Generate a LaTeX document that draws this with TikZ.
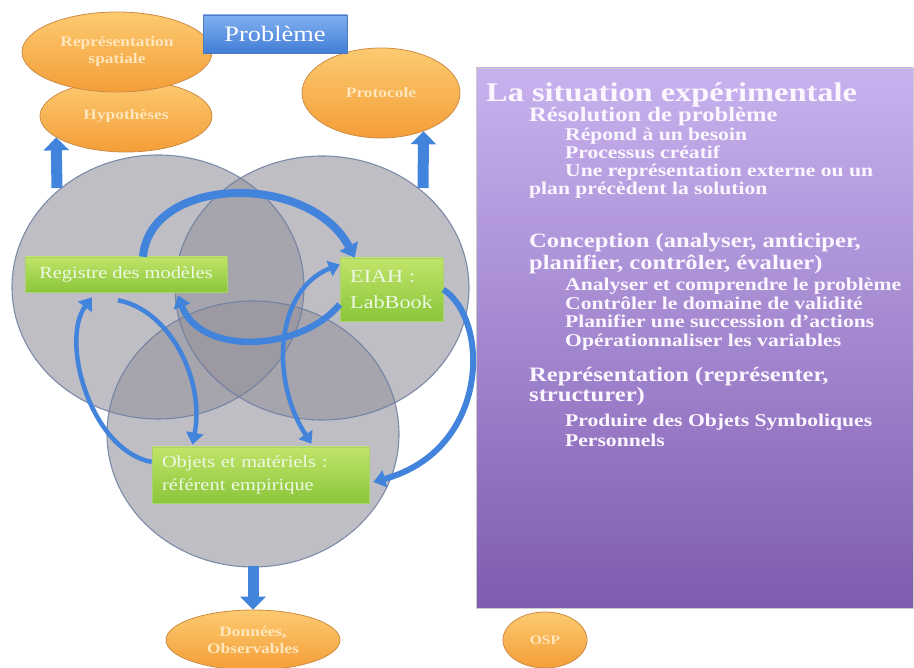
\documentclass[tikz,border=0pt]{standalone}
\usepackage{fontspec}
\newfontfamily\cam[FakeStretch=1.2]{Liberation Serif}
\usetikzlibrary{shapes.geometric,arrows.meta}
\definecolor{cgray}{RGB}{148,145,156}
\definecolor{cedge}{RGB}{108,126,160}
\definecolor{ablue}{RGB}{66,132,220}
\definecolor{ptop}{RGB}{200,178,238}
\definecolor{pbot}{RGB}{126,92,176}
\definecolor{ptext}{RGB}{252,246,255}
\definecolor{gtop}{RGB}{192,228,105}
\definecolor{gbot}{RGB}{138,198,58}
\definecolor{gedge}{RGB}{170,210,110}
\definecolor{gtext}{RGB}{238,248,228}
\definecolor{otop}{RGB}{252,202,112}
\definecolor{obot}{RGB}{244,158,56}
\definecolor{oedge}{RGB}{205,140,70}
\definecolor{otext}{RGB}{255,230,188}
\definecolor{btop}{RGB}{128,175,240}
\definecolor{bbot}{RGB}{66,126,214}
\definecolor{bedge}{RGB}{80,120,190}
\begin{document}
\begin{tikzpicture}[x=1pt,y=-1pt,
  venn/.style={fill=cgray,fill opacity=0.59},
  vennedge/.style={draw=cedge,line width=1.1pt,draw opacity=0.85},
  gbox/.style={rectangle,draw=gedge,line width=0.6pt,top color=gtop,bottom color=gbot,text=gtext,inner sep=0pt,font=\cam\fontsize{17}{23}\selectfont},
  oval/.style={ellipse,draw=oedge,line width=0.8pt,top color=otop,bottom color=obot,text=otext,inner sep=0pt,align=center,font=\cam\bfseries\fontsize{14.5}{17}\selectfont},
  ptxt/.style={anchor=base west,inner sep=0pt,text=ptext},
  lvl0/.style={ptxt,font=\cam\bfseries\fontsize{27}{30}\selectfont},
  lvl1/.style={ptxt,font=\cam\bfseries\fontsize{20.5}{24}\selectfont},
  lvl2/.style={ptxt,font=\cam\bfseries\fontsize{18}{21}\selectfont},
  curv/.style={draw=ablue,line width=5pt,-{Triangle[width=17pt,length=12pt]}},
  dcurv/.style={draw=ablue,line width=4.5pt,{Triangle[width=16pt,length=11pt]}-{Triangle[width=16pt,length=11pt]}},
  block/.style={draw=ablue,line width=11pt,-{Triangle[width=25pt,length=13pt]}}
]
\useasboundingbox (0,0) rectangle (914,668);

% Venn circles
\path[venn] (158,287) ellipse [x radius=146,y radius=132];
\path[venn] (322,288) ellipse [x radius=147,y radius=132];
\path[venn] (253,434) ellipse [x radius=146,y radius=133];
\path[vennedge] (158,287) ellipse [x radius=146,y radius=132];
\path[vennedge] (322,288) ellipse [x radius=147,y radius=132];
\path[vennedge] (253,434) ellipse [x radius=146,y radius=133];

% purple panel
\node[rectangle,draw=black!20,line width=0.6pt,top color=ptop,bottom color=pbot,minimum width=437pt,minimum height=540pt,inner sep=0pt] (sit) at (694.5,338) {};
\node[lvl0] (t0) at (486,102) {La situation expérimentale};
\node[lvl1] (t1) at (529,122) {Résolution de problème};
\node[lvl2] (t2) at (565,141) {Répond à un besoin};
\node[lvl2] (t3) at (565,159) {Processus créatif};
\node[lvl2] (t4) at (565,177) {Une représentation externe ou un};
\node[lvl2] (t5) at (529,195) {plan précèdent la solution};
\node[lvl1] (t6) at (529,248) {Conception (analyser, anticiper,};
\node[lvl1] (t7) at (529,270) {planifier, contrôler, évaluer)};
\node[lvl2] (t8) at (565,291) {Analyser et comprendre le problème};
\node[lvl2] (t9) at (565,310) {Contrôler le domaine de validité};
\node[lvl2] (t10) at (565,328) {Planifier une succession d’actions};
\node[lvl2] (t11) at (565,347) {Opérationnaliser les variables};
\node[lvl1] (t12) at (529,382) {Représentation (représenter,};
\node[lvl1] (t13) at (529,402) {structurer)};
\node[lvl2] (t14) at (565,427) {Produire des Objets Symboliques};
\node[lvl2] (t15) at (565,447) {Personnels};

% orange ovals
\node[oval,minimum width=172pt,minimum height=72pt] (hyp) at (126,116) {Hypothèses};
\node[oval,minimum width=190pt,minimum height=80pt] (rep) at (117,52) {Représentation\\spatiale};
\node[oval,minimum width=158pt,minimum height=90pt] (proto) at (381,93) {Protocole};
\node[oval,minimum width=174pt,minimum height=60pt] (don) at (253,640) {Données,\\Observables};
\node[oval,minimum width=84pt,minimum height=56pt,font=\cam\bfseries\fontsize{13}{16}\selectfont] (osp) at (545,640) {OSP};

% probleme box
\node[rectangle,draw=bedge,line width=0.6pt,top color=btop,bottom color=bbot,text=white,minimum width=144pt,minimum height=38pt,inner sep=0pt,font=\cam\fontsize{22}{24}\selectfont] (prob) at (275,34) {Problème};

% green boxes
\node[gbox,minimum width=202pt,minimum height=35pt] (reg) at (126,274.5) {Registre des modèles};
\node[gbox,minimum width=103pt,minimum height=63pt,align=left,font=\cam\fontsize{18.5}{26}\selectfont] (eiah) at (391.5,289.5) {EIAH :\\LabBook};
\node[gbox,minimum width=217pt,minimum height=56pt,align=left,text width=197pt,inner xsep=10pt] (obj) at (260.5,475) {Objets et matériels :\\référent empirique};

% straight block arrows
\coordinate (cA) at (57,188);
\coordinate (cB) at (423,188);
\coordinate (cC) at (253,566);
\draw[block] (cA) -- (hyp.197);
\draw[block] (cB) -- (proto.318);
\draw[block] (cC) -- (don.north);

% curved arrows
\draw[curv,line width=8pt,-{Triangle[width=20pt,length=13pt]}] ([xshift=17pt]reg.north) .. controls (150,175) and (310,172) .. ([xshift=15pt]eiah.north west);
\draw[curv,line width=6.5pt] ([yshift=-15pt]eiah.west) .. controls (300,352) and (200,356) .. ([xshift=52pt,yshift=-3pt]reg.south);
\draw[dcurv] ([xshift=51pt,yshift=3pt]obj.north) .. controls (270,380) and (275,290) .. ([yshift=25pt]eiah.west);
\draw[curv,line width=4.5pt] ([yshift=13pt]obj.west) .. controls (90,450) and (60,340) .. ([xshift=-34pt,yshift=-5pt]reg.south);
\draw[curv,line width=4.5pt] ([xshift=-8pt,yshift=-8pt]reg.south) .. controls (170,310) and (205,380) .. ([xshift=-68pt,yshift=2pt]obj.north);
\draw[curv,line width=6pt] (eiah.east) .. controls (490,320) and (490,450) .. ([xshift=4pt,yshift=-7pt]obj.east);
\end{tikzpicture}
\end{document}
